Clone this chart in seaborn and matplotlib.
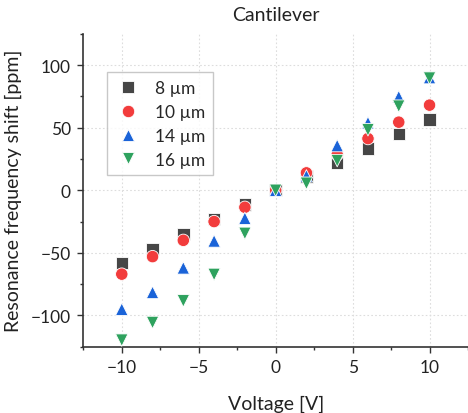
import matplotlib
matplotlib.use("Agg")
import matplotlib.pyplot as plt
import seaborn as sns
import pandas as pd
from matplotlib.ticker import MultipleLocator

voltage = [-10, -8, -6, -4, -2, 0, 2, 4, 6, 8, 10]
shift_8um = [-58, -46.7, -35, -23, -11.5, 0, 11, 21.6, 33.3, 45, 56.5]
shift_10um = [-67, -53, -40, -25, -13.6, 0, 13.9, 28.5, 41.3, 54.4, 68]
shift_14um = [-95, -81.6, -62, -40.5, -22.4, 0, 11.5, 35.7, 53.9, 74.7, 90]
shift_16um = [-119.7, -105.6, -88.3, -67.2, -34.4, 0, 5.6, 23.7, 48.3, 67.2, 89.6]
labels = ["8 µm", "10 µm", "14 µm", "16 µm"]

series = [shift_8um, shift_10um, shift_14um, shift_16um]
rows = []
for lab, vals in zip(labels, series):
    for v, s in zip(voltage, vals):
        rows.append({"Voltage": v, "Shift": s, "Width": lab})
df = pd.DataFrame(rows)

sns.set_style("white")
plt.rcParams['font.family'] = ['Lato', 'DejaVu Sans']

fig = plt.figure(figsize=(4.68, 4.14), dpi=100)
ax = fig.add_axes([0.178, 0.160, 0.822, 0.756])

palette = {"8 µm": "#464646", "10 µm": "#f23c3c", "14 µm": "#1a63d8", "16 µm": "#2ea25e"}
markers = {"8 µm": "s", "10 µm": "o", "14 µm": "^", "16 µm": "v"}

sns.scatterplot(data=df, x="Voltage", y="Shift", hue="Width", style="Width",
                palette=palette, markers=markers, hue_order=labels, style_order=labels,
                s=80, edgecolor="white", linewidth=0.6, ax=ax, zorder=3)

ax.set_xlim(-12.5, 12.5)
ax.set_ylim(-125, 125)
ax.xaxis.set_minor_locator(MultipleLocator(2.5))
ax.yaxis.set_minor_locator(MultipleLocator(25))

ax.set_xticks([-10, -5, 0, 5, 10])
ax.set_xticklabels(["\u221210", "\u22125", "0", "5", "10"])
ax.set_yticks([-100, -50, 0, 50, 100])
ax.set_yticklabels(["\u2212100", "\u221250", "0", "50", "100"])

ax.tick_params(axis="both", which="major", direction="out", length=4, width=1,
               labelsize=12.5, color="#333333", labelcolor="#222222", pad=5)
ax.tick_params(axis="both", which="minor", direction="out", length=2.5, width=1,
               color="#333333")
ax.tick_params(axis="x", which="both", bottom=True)
ax.tick_params(axis="y", which="both", left=True)

for side in ["top", "right"]:
    ax.spines[side].set_visible(False)
for side in ["left", "bottom"]:
    ax.spines[side].set_color("#333333")
    ax.spines[side].set_linewidth(1.2)

ax.grid(True, which="major", linestyle=(0, (1.5, 2)), color="#dddddd", linewidth=0.8)
ax.set_axisbelow(True)

ax.set_xlabel("Voltage [V]", fontsize=14, color="#222222", labelpad=14)
ax.set_ylabel("Resonance frequency shift [ppm]", fontsize=14, color="#222222", labelpad=6)
ax.set_title("Cantilever", fontsize=14, color="#222222", pad=10)

leg = ax.legend(loc="upper left", bbox_to_anchor=(0.061, 0.877), frameon=True,
                fancybox=False, edgecolor="#bbbbbb", fontsize=12.5, borderpad=0.45,
                labelspacing=0.45, handletextpad=0.8, markerscale=1.0, borderaxespad=0,
                handlelength=1.5)
leg.get_frame().set_linewidth(1.0)

fig.savefig("out.png", dpi=100)
